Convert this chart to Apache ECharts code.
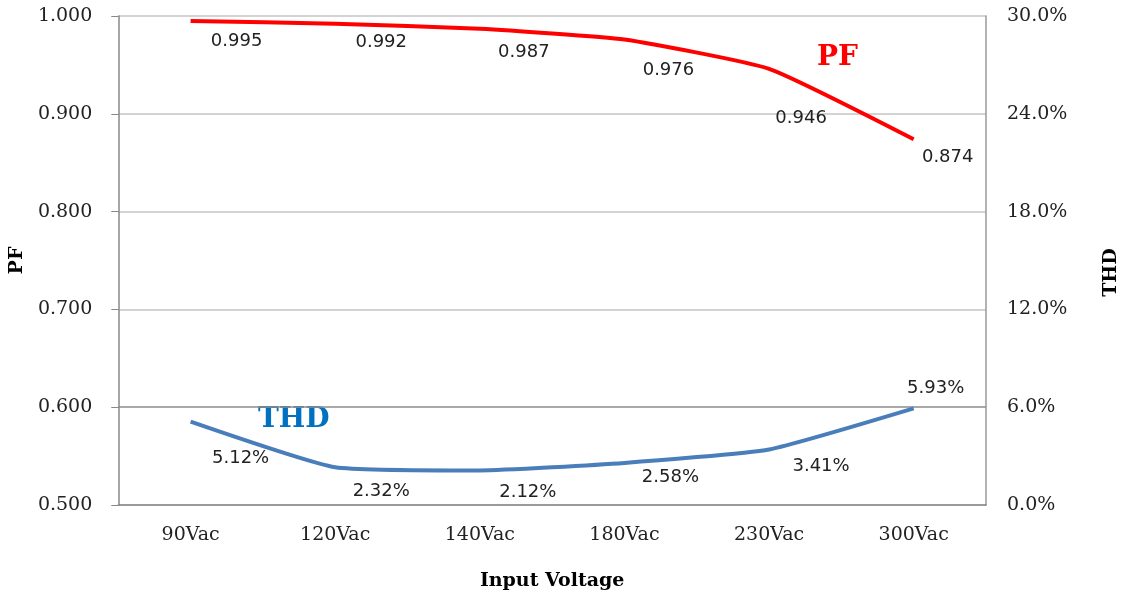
<!DOCTYPE html>
<html><head><meta charset="utf-8">
<script src="https://cdn.jsdelivr.net/npm/echarts@6/dist/echarts.min.js"></script>
<style>html,body{margin:0;padding:0;background:#fff}#c{width:1131px;height:596px}</style>
</head><body><div id="c"></div>
<script>
const categories = ['90Vac','120Vac','140Vac','180Vac','230Vac','300Vac'];
const pfValues = [0.995, 0.992, 0.987, 0.976, 0.946, 0.874];
const thdValues = [5.12, 2.32, 2.12, 2.58, 3.41, 5.93];
const pfTicks = [0.5, 1.0, 0.1];
const thdTicks = [0, 30, 6];

const pfOffsets = [[46,20],[46,19],[44,24],[44,31],[32,50],[34,18]];
const thdOffsets = [[50,37],[46,24],[48,22],[46,14],[52,17],[22,-20]];

const serif = '"DejaVu Serif","Liberation Serif",serif';
const sans = '"DejaVu Sans","Noto Sans",sans-serif';
const chart = echarts.init(document.getElementById('c'));
chart.setOption({
  animation:false,
  grid:{left:117,right:145,top:16,bottom:91},
  xAxis:{type:'category',data:categories,boundaryGap:true,
    name:'Input Voltage',nameLocation:'middle',nameGap:67,
    nameTextStyle:{fontFamily:serif,fontWeight:'bold',fontSize:19,color:'#000'},
    axisLine:{lineStyle:{color:'#888',width:1.5}},axisTick:{show:false},
    axisLabel:{fontFamily:serif,fontSize:19,color:'#222',margin:21}},
  yAxis:[
    {type:'value',min:pfTicks[0],max:pfTicks[1],interval:pfTicks[2],
     name:'PF',nameLocation:'middle',nameGap:86,nameRotate:90,
     nameTextStyle:{fontFamily:serif,fontWeight:'bold',fontSize:19,color:'#000'},
     axisLine:{show:true,lineStyle:{color:'#888',width:1.5}},
     axisTick:{show:true,length:7,lineStyle:{color:'#888'}},
     axisLabel:{fontFamily:serif,fontSize:19,color:'#222',margin:26,formatter:v=>v.toFixed(3)},
     splitLine:{show:true,lineStyle:{color:['#c4c4c4','#8c8c8c','#c4c4c4','#c4c4c4','#c4c4c4','#c4c4c4'],width:1.5}}},
    {type:'value',min:thdTicks[0],max:thdTicks[1],interval:thdTicks[2],position:'right',
     name:'THD',nameLocation:'middle',nameGap:116,nameRotate:90,
     nameTextStyle:{fontFamily:serif,fontWeight:'bold',fontSize:19,color:'#000',padding:[0,24,0,0]},
     axisLine:{show:true,lineStyle:{color:'#999',width:1.5}},axisTick:{show:false},
     axisLabel:{fontFamily:serif,fontSize:19,color:'#222',margin:21,formatter:v=>v.toFixed(1)+'%'},
     splitLine:{show:false}}
  ],
  series:[
    {type:'line',name:'PF',yAxisIndex:0,data:pfValues.map((v,i)=>({value:v,label:{offset:pfOffsets[i]}})),
     smooth:0.15,symbol:'circle',symbolSize:1,showSymbol:true,itemStyle:{color:'rgba(0,0,0,0)'},
     lineStyle:{color:'#FF0000',width:4},
     label:{show:true,position:'inside',fontFamily:sans,fontSize:18,color:'#222',formatter:p=>p.value.toFixed(3)}},
    {type:'line',name:'THD',yAxisIndex:1,data:thdValues.map((v,i)=>({value:v,label:{offset:thdOffsets[i]}})),
     smooth:0.15,symbol:'circle',symbolSize:1,showSymbol:true,itemStyle:{color:'rgba(0,0,0,0)'},
     lineStyle:{color:'#4A7EBB',width:4},
     label:{show:true,position:'inside',fontFamily:sans,fontSize:18,color:'#222',formatter:p=>p.value.toFixed(2)+'%'}}
  ],
  graphic:[
    {type:'text',left:817,top:44,style:{text:'PF',fill:'#FF0000',font:'bold 28px '+serif}},
    {type:'text',left:258,top:406,style:{text:'THD',fill:'#0070C0',font:'bold 28px '+serif}}
  ]
});
</script></body></html>
